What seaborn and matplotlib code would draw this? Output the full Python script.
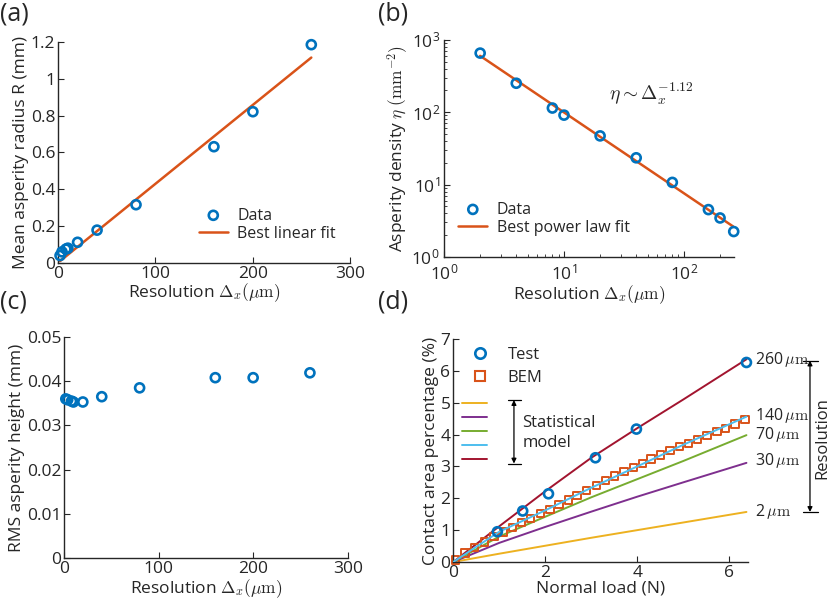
import numpy as np
import pandas as pd
import seaborn as sns
import matplotlib.pyplot as plt
import matplotlib.ticker as mticker

sns.set_style('ticks')
plt.rcParams['font.family'] = ['Open Sans', 'DejaVu Sans']
plt.rcParams['mathtext.fontset'] = 'cm'
plt.rcParams['xtick.direction'] = 'in'
plt.rcParams['ytick.direction'] = 'in'
plt.rcParams['font.size'] = 12

# ---- data ----
resolution = [2, 4, 8, 10, 20, 40, 80, 160, 200, 260]
radius = [0.04, 0.06, 0.075, 0.08, 0.112, 0.178, 0.316, 0.631, 0.821, 1.185]
radius_fit_x = [2, 260]
radius_fit_y = [0.01, 1.115]

density = [655, 251, 114, 91, 47, 23.4, 10.7, 4.5, 3.45, 2.24]
density_fit_x = [2, 260]
density_fit_y = [600, 2.6]

rms_height = [0.0360, 0.0358, 0.0355, 0.0353, 0.0353, 0.0365, 0.0385, 0.0408, 0.0408, 0.0419]

test_load = [0.96, 1.51, 2.07, 3.09, 3.98, 6.37]
test_area = [0.95, 1.6, 2.14, 3.27, 4.17, 6.26]

bem_load = [0.05, 0.26, 0.47, 0.68, 0.89, 1.09, 1.29, 1.48, 1.68, 1.89, 2.10, 2.30,
            2.50, 2.69, 2.89, 3.11, 3.31, 3.51, 3.71, 3.91, 4.11, 4.30, 4.51, 4.71,
            4.91, 5.11, 5.31, 5.51, 5.73, 5.92, 6.12, 6.34]
bem_area = [0.06, 0.28, 0.46, 0.63, 0.79, 0.94, 1.08, 1.23, 1.36, 1.52, 1.65, 1.81,
            1.94, 2.09, 2.25, 2.41, 2.55, 2.70, 2.83, 2.97, 3.09, 3.23, 3.36, 3.49,
            3.62, 3.72, 3.85, 3.96, 4.09, 4.19, 4.33, 4.48]

model_load = [0, 1, 2, 3, 4, 5, 6.37]
model_2um = [0, 0.26, 0.51, 0.76, 1.0, 1.24, 1.57]
model_30um = [0, 0.6, 1.1, 1.58, 2.05, 2.5, 3.11]
model_70um = [0, 0.8, 1.42, 2.03, 2.6, 3.17, 3.98]
model_140um = [0, 0.95, 1.62, 2.33, 3.0, 3.68, 4.56]
model_260um = [0, 1.12, 2.22, 3.27, 4.2, 5.1, 6.36]
model_labels = ['2', '30', '70', '140', '260']
model_label_y = [1.57, 3.2, 4.0, 4.61, 6.36]

blue = '#0072BD'
orange = '#D95319'
model_colors = ['#EDB120', '#7E2F8E', '#77AC30', '#4DBEEE', '#A2142F']
dark = '#262626'

fig = plt.figure(figsize=(8.3, 6.03), dpi=100)
ax_a = fig.add_axes([0.070, 0.564, 0.352, 0.3665])
ax_b = fig.add_axes([0.535, 0.574, 0.349, 0.360])
ax_c = fig.add_axes([0.077, 0.0746, 0.342, 0.3665])
ax_d = fig.add_axes([0.546, 0.068, 0.355, 0.370])

xlab = r'Resolution $\Delta_x(\mu\mathrm{m})$'
circ = dict(marker='o', s=42, facecolor='none', edgecolor=blue, linewidth=1.9, color=blue,
            clip_on=False)

# (a)
sns.lineplot(x=radius_fit_x, y=radius_fit_y, color=orange, lw=1.8, ax=ax_a, label='Best linear fit')
sns.scatterplot(x=resolution, y=radius, ax=ax_a, label='Data', zorder=3, **circ)
ax_a.set_xlim(0, 300)
ax_a.set_ylim(0, 1.2)
ax_a.set_xticks([0, 100, 200, 300])
ax_a.set_yticks([0, 0.2, 0.4, 0.6, 0.8, 1.0, 1.2])
ax_a.yaxis.set_major_formatter(mticker.FormatStrFormatter('%g'))
ax_a.set_xlabel(xlab, labelpad=0)
ax_a.set_ylabel('Mean asperity radius R (mm)', labelpad=1)
h, l = ax_a.get_legend_handles_labels()
ax_a.legend(h[::-1], l[::-1], loc='lower right', frameon=False, fontsize=11.5,
            handlelength=1.8, handletextpad=0.6, labelspacing=0.15,
            bbox_to_anchor=(1.0, 0.03))

# (b)
sns.lineplot(x=density_fit_x, y=density_fit_y, color=orange, lw=1.8, ax=ax_b, label='Best power law fit')
sns.scatterplot(x=resolution, y=density, ax=ax_b, label='Data', zorder=3, **circ)
ax_b.set_xscale('log')
ax_b.set_yscale('log')
ax_b.set_xlim(1, 260)
ax_b.set_ylim(1, 1000)
ax_b.xaxis.set_major_locator(mticker.LogLocator(base=10, numticks=10))
ax_b.yaxis.set_major_locator(mticker.LogLocator(base=10, numticks=10))
ax_b.set_xlabel(xlab, labelpad=0)
ax_b.set_ylabel(r'Asperity density $\eta$ $(\mathrm{mm}^{-2})$', labelpad=1)
ax_b.text(0.716, 0.75, r'$\eta\sim\Delta_x^{-1.12}$', transform=ax_b.transAxes,
          ha='center', va='center', fontsize=14)
h, l = ax_b.get_legend_handles_labels()
ax_b.legend(h[::-1], l[::-1], loc='lower left', frameon=False, fontsize=11.5,
            handlelength=1.8, handletextpad=0.6, labelspacing=0.15,
            bbox_to_anchor=(0.0, 0.03))

# (c)
sns.scatterplot(x=resolution, y=rms_height, ax=ax_c, zorder=3, **circ)
ax_c.set_xlim(0, 300)
ax_c.set_ylim(0, 0.05)
ax_c.set_xticks([0, 100, 200, 300])
ax_c.set_yticks([0, 0.01, 0.02, 0.03, 0.04, 0.05])
ax_c.yaxis.set_major_formatter(mticker.FormatStrFormatter('%g'))
ax_c.set_xlabel(xlab, labelpad=0)
ax_c.set_ylabel('RMS asperity height (mm)', labelpad=1)

# (d)
model_series = [model_2um, model_30um, model_70um, model_140um, model_260um]
model_lines = []
for vals, col in zip(model_series, model_colors):
    sns.lineplot(x=model_load, y=vals, color=col, lw=1.4, ax=ax_d)
    model_lines.append(ax_d.get_lines()[-1])
sns.scatterplot(x=bem_load, y=bem_area, ax=ax_d, marker='s', s=28, facecolor='none',
                edgecolor=orange, linewidth=1.4, color=orange, zorder=2, clip_on=False)
sns.scatterplot(x=test_load, y=test_area, ax=ax_d, zorder=4, **circ)
# keep the light blue line on top of the BEM squares
model_lines[3].set_zorder(3)
ax_d.set_xlim(0, 6.4)
ax_d.set_ylim(0, 7)
ax_d.set_xticks([0, 2, 4, 6])
ax_d.set_yticks(range(8))
ax_d.set_xlabel('Normal load (N)', labelpad=0)
ax_d.set_ylabel('Contact area percentage (%)', labelpad=1)

test_handle = plt.Line2D([], [], ls='none', marker='o', ms=7.5, mfc='none', mec=blue, mew=1.9)
bem_handle = plt.Line2D([], [], ls='none', marker='s', ms=6.5, mfc='none', mec=orange, mew=1.5)
leg1 = ax_d.legend([test_handle, bem_handle], ['Test', 'BEM'], loc='upper left', frameon=False,
                   fontsize=12, handlelength=1.7, handletextpad=0.8, labelspacing=0.45,
                   bbox_to_anchor=(0.02, 0.995), borderaxespad=0)
ax_d.add_artist(leg1)
line_handles = [plt.Line2D([], [], color=c, lw=1.4) for c in model_colors]
ax_d.legend(line_handles, [' '] * 5, loc='upper left', frameon=False, fontsize=6,
            handlelength=3.0, labelspacing=0.75, bbox_to_anchor=(0.02, 0.74), borderaxespad=0)

ax_d.annotate('', xy=(1.32, 3.09), xytext=(1.32, 5.08),
              arrowprops=dict(arrowstyle='<|-|>', color='k', lw=0.9, mutation_scale=7,
                              shrinkA=0, shrinkB=0))
ax_d.plot([1.19, 1.48], [5.08, 5.08], color='k', lw=0.9)
ax_d.plot([1.19, 1.48], [3.09, 3.09], color='k', lw=0.9)
ax_d.text(1.5, 4.05, 'Statistical\nmodel', ha='left', va='center', fontsize=12, linespacing=1.3)

for lab, yy in zip(model_labels, model_label_y):
    ax_d.text(6.56, yy, lab + r'$\,\mu\mathrm{m}$', ha='left', va='center', fontsize=11.5,
              clip_on=False)
ax_d.annotate('', xy=(7.75, 1.57), xytext=(7.75, 6.32), annotation_clip=False,
              arrowprops=dict(arrowstyle='<|-|>', color='k', lw=0.9, mutation_scale=7,
                              shrinkA=0, shrinkB=0))
ax_d.plot([7.59, 7.92], [6.32, 6.32], color='k', lw=0.9, clip_on=False)
ax_d.plot([7.59, 7.92], [1.57, 1.57], color='k', lw=0.9, clip_on=False)
ax_d.text(8.02, 3.9, 'Resolution', rotation=90, ha='center', va='center', fontsize=12,
          clip_on=False)

for ax in [ax_a, ax_b, ax_c, ax_d]:
    sns.despine(ax=ax)
    ax.tick_params(which='major', length=4, width=0.8, labelsize=12.5, pad=2)
    ax.tick_params(which='minor', length=2, width=0.6)
    for sp in ['left', 'bottom']:
        ax.spines[sp].set_linewidth(1.0)
        ax.spines[sp].set_color(dark)
    ax.xaxis.label.set_size(12.5)
    ax.yaxis.label.set_size(12.5)
# log panel: push x tick labels down a little so the two 10^0 labels don't collide
ax_b.tick_params(axis='x', which='major', pad=5)
ax_b.tick_params(axis='y', which='major', pad=3)

fig.text(0.0, 0.998, '(a)', fontsize=18, va='top', ha='left')
fig.text(0.455, 0.998, '(b)', fontsize=18, va='top', ha='left')
fig.text(0.0, 0.52, '(c)', fontsize=18, va='top', ha='left')
fig.text(0.455, 0.52, '(d)', fontsize=18, va='top', ha='left')

fig.savefig('out.png', dpi=100)
